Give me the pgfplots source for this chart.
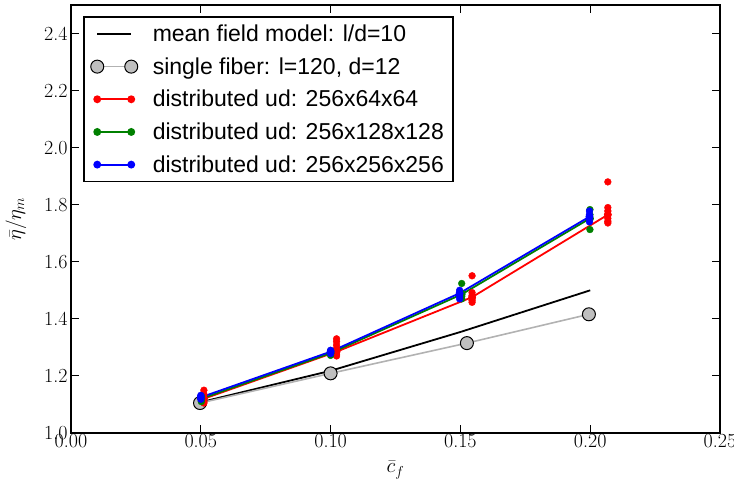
\documentclass[border=0pt]{standalone}
\usepackage{fontspec}
\usepackage{pgfplots}
\pgfplotsset{compat=1.18}
\newfontfamily\legfont{Liberation Sans}
\definecolor{mgreen}{rgb}{0,0.5,0}
\definecolor{cgray}{rgb}{0.75,0.75,0.75}
\definecolor{lgray}{rgb}{0.7,0.7,0.7}
\begin{document}
\begin{tikzpicture}
\begin{axis}[name=main,
  scale only axis, width=649pt, height=428pt,
  xmin=0, xmax=0.25, ymin=1.0, ymax=2.5,
  xtick={0,0.05,0.1,0.15,0.2,0.25},
  xticklabels={0.00,0.05,0.10,0.15,0.20,0.25},
  ytick={1.0,1.2,1.4,1.6,1.8,2.0,2.2,2.4},
  yticklabels={1.0,1.2,1.4,1.6,1.8,2.0,2.2,2.4},
  tick align=inside, major tick length=8pt,
  every tick/.style={black, line width=1pt},
  axis line style={line width=1.6pt},
  tick label style={font=\fontsize{20}{22}\selectfont},
  xticklabel style={yshift=2pt},
  xlabel={$\bar{c}_f$}, ylabel={$\bar{\eta}/\eta_m$},
  label style={font=\fontsize{21}{23}\selectfont},
  xlabel style={at={(axis description cs:0.5,-0.058)}, anchor=north},
  ylabel style={at={(axis description cs:-0.085,0.5)}, anchor=center, rotate=0},
  legend cell align=left,
  legend style={at={(0.0185,0.974)}, anchor=north west, draw=black, line width=1.5pt,
    font=\legfont\fontsize{23}{27}\selectfont, row sep=10.5pt, column sep=13pt,
    inner xsep=7pt, inner ysep=6pt},
  legend image code/.code={\draw[#1] plot coordinates {(0pt,0pt)(34pt,0pt)};},
]
% mean field model
\addplot[black, line width=1.8pt, mark=none] coordinates {
(0.05,1.108) (0.1,1.218) (0.15,1.354) (0.2,1.500)};
\addlegendentry{mean field model: l/d=10}
% single fiber
\addplot[lgray, line width=1.6pt, mark=*, mark size=6.5pt,
  mark options={fill=cgray, draw=black, line width=1pt}] coordinates {
(0.0497,1.105) (0.1,1.209) (0.1525,1.315) (0.1995,1.416)};
\addlegendentry{single fiber: l=120, d=12}
% red scatter
\addplot[red, only marks, mark=*, mark size=3.4pt, forget plot] coordinates {
(0.0512,1.150) (0.0512,1.135) (0.0512,1.120) (0.0512,1.110) (0.0512,1.105)
(0.1023,1.330) (0.1023,1.320) (0.1023,1.308) (0.1023,1.296) (0.1023,1.285) (0.1023,1.276) (0.1023,1.270)
(0.1545,1.551) (0.1545,1.492) (0.1545,1.482) (0.1545,1.472) (0.1545,1.465) (0.1545,1.458)
(0.2068,1.880) (0.2068,1.790) (0.2068,1.778) (0.2068,1.766) (0.2068,1.752) (0.2068,1.742) (0.2068,1.736)};
\addplot[red, line width=1.8pt, mark=*, mark size=3pt] coordinates {
(0.0512,1.120) (0.1023,1.285) (0.1545,1.476) (0.2068,1.765)};
\addlegendentry{distributed ud: 256x64x64}
% green
\addplot[mgreen, only marks, mark=*, mark size=3.4pt, forget plot] coordinates {
(0.0502,1.110) (0.0502,1.120) (0.0502,1.130)
(0.1,1.272) (0.1,1.280) (0.1,1.288)
(0.1505,1.524) (0.1505,1.490) (0.1505,1.478) (0.1505,1.470)
(0.1999,1.783) (0.1999,1.765) (0.1999,1.750) (0.1999,1.713)};
\addplot[mgreen, line width=1.8pt, mark=*, mark size=3pt] coordinates {
(0.0502,1.120) (0.1,1.280) (0.1505,1.486) (0.1999,1.752)};
\addlegendentry{distributed ud: 256x128x128}
% blue
\addplot[blue, only marks, mark=*, mark size=3.4pt, forget plot] coordinates {
(0.0500,1.118) (0.0500,1.125) (0.0500,1.132)
(0.1,1.278) (0.1,1.285) (0.1,1.290)
(0.1497,1.500) (0.1497,1.490) (0.1497,1.480) (0.1497,1.470)
(0.1997,1.778) (0.1997,1.765) (0.1997,1.752) (0.1997,1.740)};
\addplot[blue, line width=1.8pt, mark=*, mark size=3pt] coordinates {
(0.0500,1.125) (0.1,1.285) (0.1497,1.490) (0.1997,1.758)};
\addlegendentry{distributed ud: 256x256x256}
\end{axis}
\pgfresetboundingbox
\path[use as bounding box] ([shift={(-71pt,-56pt)}]main.south west) rectangle ([shift={(14pt,5pt)}]main.north east);
\end{tikzpicture}
\end{document}
